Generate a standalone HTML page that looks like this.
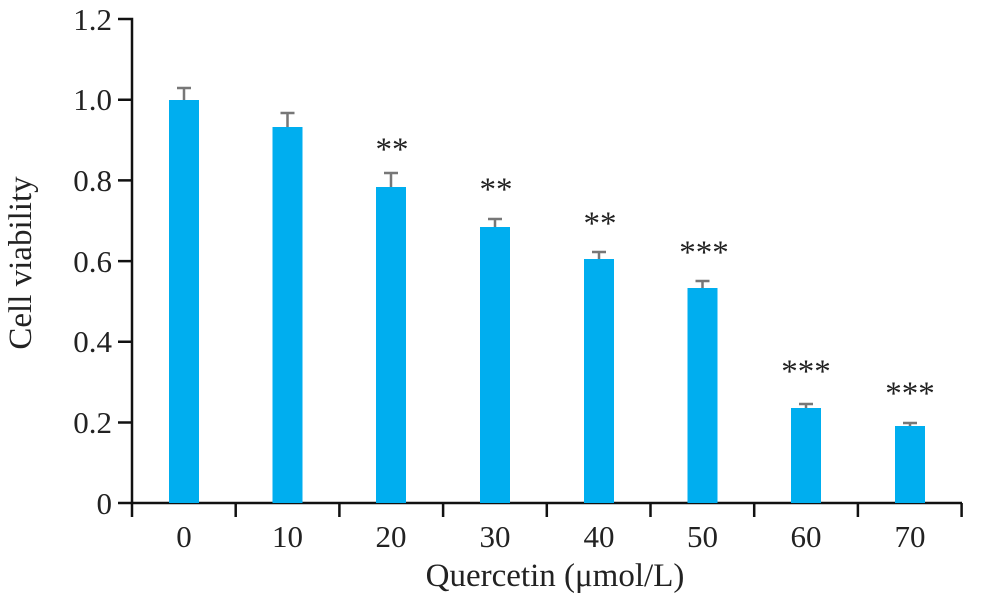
<!DOCTYPE html>
<html><head><meta charset="utf-8"><style>body{margin:0;background:#fff}</style></head><body>
<svg width="982" height="593" xmlns="http://www.w3.org/2000/svg" font-family="Liberation Serif, serif" fill="#222">
<g stroke="#111" stroke-width="2.5" fill="none">
<path d="M118 19H132V503H962"/>
<path d="M118 99.7H132M118 180.4H132M118 261.1H132M118 341.8H132M118 422.5H132M118 503H132"/>
<path d="M132 503V517M235.7 503V517M339.4 503V517M443.1 503V517M546.8 503V517M650.5 503V517M754.2 503V517M857.9 503V517M961.6 503V517"/>
</g>
<g fill="#00aeef">
<rect x="169" y="100" width="30" height="403"/>
<rect x="272.5" y="127" width="30" height="376"/>
<rect x="376" y="187" width="30" height="316"/>
<rect x="480" y="227" width="30" height="276"/>
<rect x="584" y="259" width="30" height="244"/>
<rect x="687.5" y="288" width="30" height="215"/>
<rect x="791" y="408" width="30" height="95"/>
<rect x="895" y="426" width="30" height="77"/>
</g>
<g stroke="#777" stroke-width="2.5">
<path d="M184 100V88M177 88H191"/>
<path d="M287.5 127V113M280.5 113H294.5"/>
<path d="M391 187V173M384 173H398"/>
<path d="M495 227V219M488 219H502"/>
<path d="M599 259V252M592 252H606"/>
<path d="M702.5 288V281M695.5 281H709.5"/>
<path d="M806 408V404M799 404H813"/>
<path d="M910 426V423M903 423H917"/>
</g>
<g font-size="31" text-anchor="end">
<text x="112" y="30">1.2</text><text x="112" y="110">1.0</text><text x="112" y="191">0.8</text>
<text x="112" y="272">0.6</text><text x="112" y="352">0.4</text><text x="112" y="433">0.2</text><text x="112" y="514">0</text>
</g>
<g font-size="31" text-anchor="middle">
<text x="184" y="547">0</text><text x="287.5" y="547">10</text><text x="391" y="547">20</text><text x="495" y="547">30</text>
<text x="599" y="547">40</text><text x="702.5" y="547">50</text><text x="806" y="547">60</text><text x="910" y="547">70</text>
<text x="555" y="586" font-size="33">Quercetin (μmol/L)</text>
<text transform="translate(31 263) rotate(-90)" font-size="33">Cell viability</text>
</g>
<g font-size="33" text-anchor="middle">
<text x="392" y="160">**</text><text x="496" y="200">**</text><text x="600" y="234">**</text>
<text x="704" y="263">***</text><text x="806" y="382">***</text><text x="910" y="404">***</text>
</g>
</svg>
</body></html>
